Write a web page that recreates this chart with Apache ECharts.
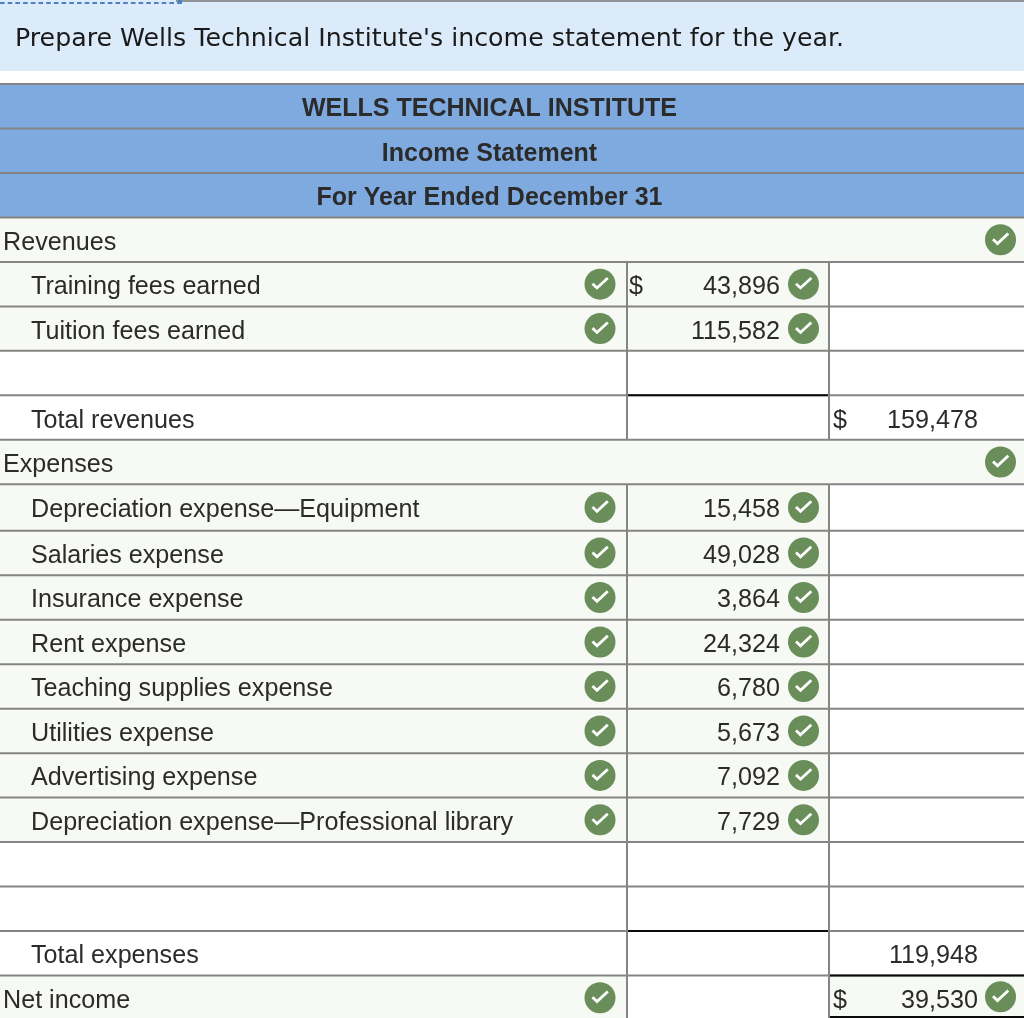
<!DOCTYPE html>
<html><head><meta charset="utf-8">
<style>html,body{margin:0;padding:0;background:#fff}#c{width:1024px;height:1018px}</style>
<script src="https://cdn.jsdelivr.net/npm/echarts@6/dist/echarts.min.js"></script>
</head><body><div id="c"></div>
<script>
const promptText = "Prepare Wells Technical Institute's income statement for the year.";
const rowLabels = ["WELLS TECHNICAL INSTITUTE","Income Statement","For Year Ended December 31","Revenues","Training fees earned","Tuition fees earned","","Total revenues","Expenses","Depreciation expense—Equipment","Salaries expense","Insurance expense","Rent expense","Teaching supplies expense","Utilities expense","Advertising expense","Depreciation expense—Professional library","","","Total expenses","Net income"];
const rowKinds = ["header","header","header","section","item","item","blank","total","section","item","item","item","item","item","item","item","item","blank","blank","total","net"];
const firstColumn = [null,null,null,null,"43,896","115,582",null,null,null,"15,458","49,028","3,864","24,324","6,780","5,673","7,092","7,729",null,null,null,null];
const secondColumn = [null,null,null,null,null,null,null,"159,478",null,null,null,null,null,null,null,null,null,null,null,"119,948","39,530"];
const firstDollar = [null,null,null,null,"$",null,null,null,null,null,null,null,null,null,null,null,null,null,null,null,null];
const secondDollar = [null,null,null,null,null,null,null,"$",null,null,null,null,null,null,null,null,null,null,null,null,"$"];

const ROW = 44.5, TOP = 84, COL1 = 627, COL2 = 829, W = 1024;
const GREY = '#858585', SHADE = '#f7f9f5', HEAD = '#7eaadf', INK = '#2b2b2b', GREEN = '#6a8e5a';
const FONT = '"Liberation Sans", Arial, sans-serif';
const FS = 25.15, FS_BOLD = 25, TEXT_DY = 3;

function txt(x, y, s, align, weight) {
  const size = weight === 'bold' ? FS_BOLD : FS;
  return {type:'text', z2:5, style:{x, y:y+TEXT_DY, text:s, fill:INK, font:(weight||'normal')+' '+size+'px '+FONT, textAlign:align, textVerticalAlign:'middle'}};
}
function check(cx, cy) {
  return {type:'group', children:[
    {type:'circle', z2:6, shape:{cx, cy, r:15.5}, style:{fill:GREEN}},
    {type:'polyline', z2:7, shape:{points:[[cx-7.5,cy-0.5],[cx-3,cy+3.8],[cx+7.8,cy-6.2]]}, style:{stroke:'#fff', lineWidth:2.8, fill:null}}
  ]};
}
function rect(x, y, w, h, fill, z2) { return {type:'rect', z2:z2||1, shape:{x, y, width:w, height:h}, style:{fill}}; }
function hline(x1, x2, y, color, lw) { return {type:'line', z2:color===GREY?3:4, shape:{x1, y1:y, x2, y2:y}, style:{stroke:color, lineWidth:lw||2}}; }
function vline(x, y1, y2) { return {type:'line', z2:3, shape:{x1:x, y1, x2:x, y2}, style:{stroke:GREY, lineWidth:2}}; }

function renderRow(params, api) {
  const i = api.value(0);
  const kind = rowKinds[i];
  const mid = api.coord([0, i])[1];
  const band = api.size([0, 1])[1];
  // the Depreciation row is slightly taller in the source
  const extra = i === 9 ? 2 : 0, shift = i > 9 ? 2 : 0;
  const y0 = mid - band/2 + shift, y1 = mid + band/2 + shift + extra, cy = (y0 + y1)/2;
  const c = [];
  if (kind === 'header') {
    c.push(rect(0, y0, W, y1-y0, HEAD));
    c.push(txt(489.5, cy, rowLabels[i], 'center', 'bold'));
  } else {
    if (kind === 'section') c.push(rect(0, y0, W, y1-y0, SHADE));
    if (kind === 'item') c.push(rect(0, y0, COL2, y1-y0, SHADE));
    if (kind === 'net') { c.push(rect(0, y0, COL1, y1-y0, SHADE)); c.push(rect(COL2, y0, W-COL2, 1017-y0, SHADE)); }
    const indent = kind === 'section' || kind === 'net' ? 3 : 31;
    if (rowLabels[i]) c.push(txt(indent, cy, rowLabels[i], 'left'));
    if (kind !== 'section') { c.push(vline(COL1, y0, y1)); c.push(vline(COL2, y0, y1)); }
    if (firstDollar[i]) c.push(txt(629, cy, firstDollar[i], 'left'));
    if (secondDollar[i]) c.push(txt(833, cy, secondDollar[i], 'left'));
    if (firstColumn[i]) { c.push(txt(780, cy, firstColumn[i], 'right')); c.push(check(803.5, cy)); }
    if (secondColumn[i]) c.push(txt(978, cy, secondColumn[i], 'right'));
    if (kind === 'section') c.push(check(1000.5, cy));
    if (kind === 'item' || kind === 'net') c.push(check(600, cy));
    if (kind === 'net') c.push(check(1000.5, cy - 1));
  }
  c.push(hline(0, W, y0, GREY, 2));
  if (kind === 'total') c.push(hline(COL1+1, COL2-1, y0, '#0a0a0a', 2));
  if (kind === 'net') { c.push(hline(COL2+1, W, y0, '#0a0a0a', 2)); c.push(hline(COL2+1, W, 1017, '#0a0a0a', 2)); }
  return {type:'group', children:c};
}

const chart = echarts.init(document.getElementById('c'), null, {renderer:'canvas'});
chart.setOption({
  animation:false,
  backgroundColor:'#ffffff',
  title:{text:promptText, left:15, top:27, padding:0, textStyle:{fontFamily:'"DejaVu Sans"', fontSize:25.25, fontWeight:'normal', color:'#1a1a1a'}},
  graphic:[
    {type:'rect', z:-1, shape:{x:0,y:0,width:W,height:71}, style:{fill:'#dcebf9'}},
    {type:'line', shape:{x1:176,y1:1,x2:W,y2:1}, style:{stroke:'#8f9296',lineWidth:2}},
    {type:'line', z:1, shape:{x1:0,y1:3,x2:178,y2:3}, style:{stroke:'#4f80c2',lineWidth:2,lineDash:[4.6,3.1]}},
    {type:'rect', z:1, shape:{x:178,y:0,width:4,height:4}, style:{fill:'#4f80c2'}}
  ],
  grid:{left:0, top:TOP, width:W, height:ROW*rowLabels.length},
  xAxis:{type:'value', min:0, max:1, show:false},
  yAxis:{type:'category', inverse:true, data:rowLabels.map((l,i)=>i+':'+l), show:false},
  series:[{type:'custom', coordinateSystem:'cartesian2d', clip:false, silent:true,
    renderItem:renderRow,
    encode:{y:0},
    data:rowLabels.map((l,i)=>[i])}]
});
</script></body></html>
